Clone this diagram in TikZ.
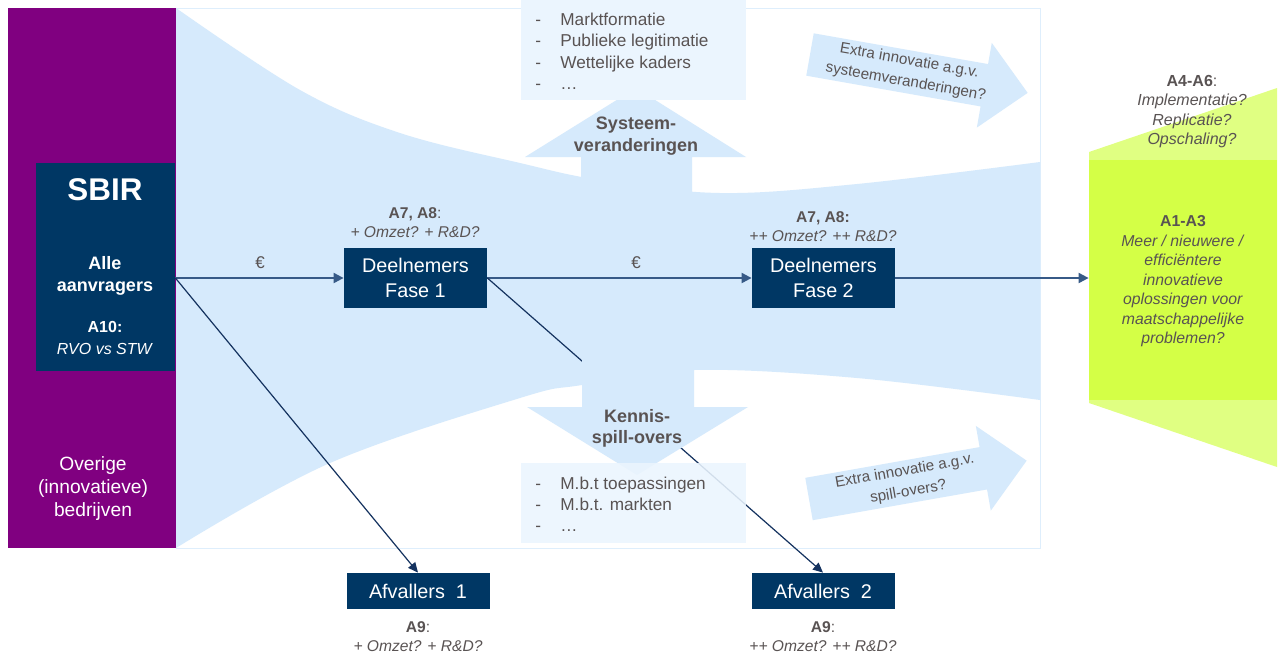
\documentclass[tikz,border=0pt]{standalone}
\usepackage{fontspec}
\setmainfont{Liberation Sans}
\usetikzlibrary{arrows.meta}
\definecolor{purp}{RGB}{128,0,128}
\definecolor{navy}{RGB}{0,55,100}
\definecolor{funnelc}{RGB}{214,234,252}
\definecolor{listbg}{RGB}{235,245,254}
\definecolor{txtgray}{RGB}{89,83,83}
\definecolor{limec}{RGB}{212,255,70}
\definecolor{limelight}{RGB}{224,255,130}
\definecolor{rimblue}{RGB}{222,238,252}
\definecolor{linecol}{RGB}{20,50,95}
\definecolor{flowline}{RGB}{55,90,135}
\begin{document}
\begin{tikzpicture}[x=0.5pt,y=-0.5pt,
  navybox/.style={fill=navy,text=white,inner sep=0,minimum width=71.5pt,minimum height=30pt,align=center,font=\fontsize{9.9}{12.5}\selectfont},
  gtxt/.style={text=txtgray,align=center,inner sep=0,font=\fontsize{7.8}{9.5}\selectfont},
  wtxt/.style={text=white,align=center,inner sep=0},
  listtxt/.style={text=txtgray,inner sep=0,anchor=base west,font=\fontsize{8.6}{10.75}\selectfont},
  arrtxt/.style={text=txtgray,align=center,inner sep=0,font=\fontsize{7.6}{10.6}\selectfont},
  flow/.style={draw=flowline,line width=1pt,-{Triangle[length=5pt,width=5pt]}},
  drop/.style={draw=linecol,line width=0.6pt,-{Triangle[length=5pt,width=4.5pt]}},
  bigarrow/.style={fill=funnelc}
]
\useasboundingbox (0,0) rectangle (1283,654);
% background frame
\filldraw[fill=white,draw=rimblue,line width=0.5pt] (176,8) rectangle (1040,548);
% funnel
\fill[funnelc] plot[smooth,tension=0.6] coordinates {(176,8) (300,90) (400,133) (520,163) (600,180) (720,193) (857,184) (1040,162)}
  -- plot[smooth,tension=0.6] coordinates {(1040,400) (857,378) (694,370) (582,385) (520,398) (330,463) (176,548)} -- cycle;
% systeem arrow
\fill[bigarrow] (581,200) -- (581,157) -- (525,157) -- (636,88) -- (746,157) -- (692,157) -- (692,200) -- cycle;
% upper list
\fill[listbg] (521,0) rectangle (746,100);
\foreach \t [count=\i] in {Marktformatie,Publieke legitimatie,Wettelijke kaders,…}{
  \node[listtxt] (upd\i) at (535,{25+21.5*(\i-1)}) {-};
  \node[listtxt] (up\i) at (560,{25+21.5*(\i-1)}) {\t};
}
% extra innovation arrows
\begin{scope}[shift={(810,54.5)},rotate=-10]
  \fill[bigarrow] (0,-21.5) -- (177,-21.5) -- (177,-43) -- (221,0) -- (177,43) -- (177,21.5) -- (0,21.5) -- cycle;
  \node[arrtxt,rotate=-10] (ex1) at (99,0) {Extra innovatie a.g.v.\\systeemveranderingen?};
\end{scope}
\begin{scope}[shift={(809,499)},rotate=10]
  \fill[bigarrow] (0,-21.5) -- (177,-21.5) -- (177,-43) -- (221,0) -- (177,43) -- (177,21.5) -- (0,21.5) -- cycle;
  \node[arrtxt,rotate=10] (ex2) at (99,0) {Extra innovatie a.g.v.\\spill-overs?};
\end{scope}
% left purple column
\fill[purp] (8,8) rectangle (176,548);
\node[fill=navy,minimum width=69.5pt,minimum height=104pt,inner sep=0] (sbir) at (105.5,267) {};
\node[wtxt,font=\fontsize{15.7}{18}\selectfont\bfseries] (sbirt) at (105,190) {SBIR};
\node[wtxt,font=\fontsize{9}{11}\selectfont\bfseries] (alle) at (105,276) {Alle\\aanvragers};
\node[wtxt,font=\fontsize{8}{11}\selectfont] (a10) at (105,338) {\textbf{A10:}\\\textit{RVO vs STW}};
\node[wtxt,font=\fontsize{9.6}{11.5}\selectfont] (overige) at (93,489) {Overige\\(innovatieve)\\bedrijven};
% green goal
\fill[limelight] (1089,152) -- (1277,88) -- (1277,467) -- (1089,403) -- cycle;
\node[fill=limec,minimum width=94pt,minimum height=120pt,inner sep=0] (goal) at (1183,280) {};
\node[gtxt,font=\fontsize{8}{9.65}\selectfont] (a46) at (1192,111.5) {\textbf{A4-A6}:\\\textit{Implementatie?}\\\textit{Replicatie?}\\\textit{Opschaling?}};
\node[gtxt,font=\fontsize{7.9}{9.75}\selectfont] (a13) at (1183,281.5) {\textbf{A1-A3}\\\textit{Meer / nieuwere /}\\\textit{efficiëntere}\\\textit{innovatieve}\\\textit{oplossingen voor}\\\textit{maatschappelijke}\\\textit{problemen?}};
% boxes
\node[navybox] (f1) at (415.5,278) {Deelnemers\\Fase 1};
\node[navybox] (f2) at (823.5,278) {Deelnemers\\Fase 2};
\node[navybox,minimum height=18pt] (a1) at (418,591) {Afvallers\ \ 1};
\node[navybox,minimum height=18pt] (a2) at (823,591) {Afvallers\ \ 2};
% connectors
\draw[flow] (sbir.east |- f1.west) -- (f1.west);
\draw[flow] (f1.east) -- (f2.west);
\draw[flow] (f2.east) -- (f2.east -| goal.west);
\draw[drop] (sbir.east |- f1.west) -- (a1.north);
\draw[drop] (f1.east) -- (a2.north);
% kennis arrow (covers drop line)
\fill[bigarrow] (582,360) -- (582,407) -- (527,407) -- (637,475) -- (748,407) -- (694,407) -- (694,360) -- cycle;
% lower list
\fill[listbg,opacity=0.88] (521,463) rectangle (746,543);
\foreach \t [count=\i] in {M.b.t toepassingen,M.b.t. markten,…}{
  \node[listtxt] (lod\i) at (535,{489+21*(\i-1)}) {-};
  \node[listtxt] (lo\i) at (560,{489+21*(\i-1)}) {\t};
}
% labels
\node[gtxt,font=\fontsize{9}{11}\selectfont\bfseries] (sys) at (636,136) {Systeem-\\veranderingen};
\node[gtxt,font=\fontsize{9}{10.5}\selectfont\bfseries] (ken) at (637,428) {Kennis-\\spill-overs};
\node[gtxt,font=\fontsize{8.5}{10}\selectfont] (eur1) at (260,263) {€};
\node[gtxt,font=\fontsize{8.5}{10}\selectfont] (eur2) at (636,263) {€};
\node[gtxt] (l1) at (415,222.5) {\textbf{A7, A8}:\\\textit{+ Omzet? + R\&D?}};
\node[gtxt] (l2) at (823,226.5) {\textbf{A7, A8:}\\\textit{++ Omzet? ++ R\&D?}};
\node[gtxt] (l3) at (418,636.5) {\textbf{A9}:\\\textit{+ Omzet? + R\&D?}};
\node[gtxt] (l4) at (823,636.5) {\textbf{A9}:\\\textit{++ Omzet? ++ R\&D?}};
\end{tikzpicture}
\end{document}
